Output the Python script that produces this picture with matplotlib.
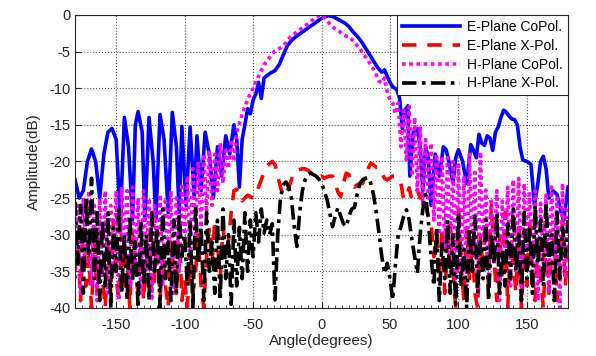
import matplotlib.pyplot as plt
import numpy as np
from matplotlib.ticker import MultipleLocator

plt.rcParams['font.family'] = ['Liberation Sans', 'DejaVu Sans']
plt.rcParams['axes.unicode_minus'] = False

# E-Plane co-pol (own angle sampling, finer near the main beam)
e_co_ang = [-180, -177, -174, -171, -168, -165, -162, -159, -156, -153, -150, -147,
            -144, -141, -138, -136, -134, -131, -129, -126, -123, -121, -118, -115,
            -112, -109, -106, -104, -102, -99, -96, -93, -91, -88, -85, -82, -79,
            -76, -73, -70, -67, -64, -62, -60, -58, -56, -54, -52, -50, -48, -46,
            -44, -42, -40, -37, -34, -31, -28, -25, -22, -19, -16, -13, -10, -7,
            -4, -1, 2, 5, 8, 11, 14, 17, 20, 23, 26, 29, 32, 35, 38, 41, 44, 46,
            48, 50, 52, 55, 57, 59, 61, 63, 64.5, 67, 70, 72, 74, 76, 78, 80, 83,
            86, 89, 91, 93, 96, 98, 100, 103, 106, 109, 111, 113, 115, 117, 119,
            121, 123, 125, 127, 129, 131, 133, 135, 137, 139, 141, 143, 145, 147,
            150, 153, 155.5, 158, 160, 162, 164, 166, 169, 172, 175, 177, 180]
e_co_val = [-22.5, -25, -24, -20, -18.3, -20, -25, -19, -16, -15.5, -17, -28,
            -14, -18, -28, -15, -13.2, -16, -28, -14, -20, -28, -13.6, -17,
            -27, -13.3, -18, -27, -15.2, -26, -15.3, -25, -16.5, -24, -16, -19, -25,
            -18, -22, -16.5, -19, -15, -17, -23.5, -17, -15, -12.8, -13.5, -11.6, -10.8, -9.2,
            -11.4, -8.6, -8.3, -7.9, -7.6, -6.8, -5.5, -4.2, -3.5, -3.0, -2.6, -2.2, -1.8, -1.4,
            -1.0, -0.6, -0.3, -0.1, -0.2, -0.5, -0.8, -1.1, -1.6, -2.3, -2.9, -3.6, -4.5, -5.4, -6.3, -7.2, -7.8, -7.5,
            -8.4, -9.2, -9.8, -10.2, -11.4, -15.5, -13, -12.4, -22, -16, -15.5, -18, -24, -18, -19.5, -26, -19,
            -22, -18, -18.4, -20, -23, -19.5, -18.4, -20, -23, -17.7, -18.5, -19.5, -16.3, -17.5, -17.8,
            -16.5, -16.8, -18.5, -16, -15.3, -14, -13, -13.3, -13.8, -14.2, -14.3, -15, -18, -19.8,
            -20, -20.4, -26, -23, -20, -19.3, -21, -25, -24, -24.5, -27, -28, -23.5]

# other three series share a 2-degree angle grid
angles = np.arange(-180, 181, 2)

e_x_val = [-35, -30, -39, -29, -37, -33, -40, -31, -38, -29,
           -36, -40, -31, -38, -28, -36, -39, -30, -37, -33,
           -40, -29, -35, -38, -31, -39, -34, -30, -38, -36,
           -29, -39, -33, -37, -40, -31, -35, -38, -29, -39,
           -36, -40, -32, -38, -35, -30, -37, -40, -33, -29,
           -34, -28, -31, -36, -29, -32, -31, -27, -24, -23.8,
           -24.5, -25.4, -25, -24.6, -24.8, -25, -24.6, -23.5, -22.5, -21.5,
           -20.7, -20.3, -20, -20.4, -22, -23.5, -24.8, -24.2, -23.6, -22.5,
           -21.4, -21.2, -21.1, -21, -21, -21.2, -21.5, -21.8, -22, -22.2,
           -22, -22.3, -22.1, -22, -22, -23, -24.2, -24.8, -23, -21.6,
           -21.8, -23.2, -23.5, -23.2, -23, -23, -22, -21, -20.2, -20.5,
           -20.8, -20.8, -21.5, -22.3, -22.5, -22.3, -22, -22, -22.5, -23,
           -25.2, -24.8, -23.6, -25.2, -24.8, -23.9, -25, -24.4, -26, -27.5,
           -28.4, -33, -30, -36, -29, -38, -32, -28.4, -35, -40,
           -25.7, -34, -39, -29, -36, -31, -38, -40, -30, -35,
           -28.4, -37, -26, -33, -39, -30, -36, -27, -40, -31,
           -34, -38, -29, -40, -32, -37, -28, -35, -39, -30,
           -36, -40, -31, -38, -33, -30, -39, -35, -28, -37,
           -32]

h_co_val = [-36, -26, -38, -25, -34, -24, -37, -26, -39, -25,
            -36, -24, -38, -26, -35, -24, -39, -23.5, -33, -24,
            -37, -23.5, -34, -25, -38, -24, -35, -25, -39, -26,
            -34, -24.5, -37, -25, -33, -24, -38, -25, -35, -23,
            -31, -22, -33, -21, -30, -20, -29, -19, -27, -18.5,
            -26, -19, -24, -17.5, -23, -18.5, -21, -17, -20, -16,
            -14.8, -13.6, -12.5, -11.6, -10.7, -10, -9.2, -8.4, -7.6, -6.8,
            -6.3, -5.8, -5.3, -4.9, -4.7, -4.5, -4.2, -3.8, -3.3, -2.8,
            -2.6, -2.3, -2.0, -1.8, -1.5, -1.2, -0.9, -0.6, -0.3, -0.1,
            0, -0.4, -0.8, -1.2, -1.6, -1.9, -2.1, -2.4, -2.7, -2.9,
            -3.0, -3.3, -3.7, -4.2, -4.6, -5.2, -5.7, -6.2, -6.8, -7.4,
            -8.2, -9.0, -9.3, -8.6, -10.5, -11.6, -12.0, -13.5, -12.0, -18,
            -13, -20, -12.5, -22, -14, -24, -15.2, -26, -17, -25,
            -17.5, -28, -19, -30, -19.3, -32, -19.5, -34, -20, -36,
            -20.5, -35, -22, -37, -19, -33, -21.5, -38, -18.7, -32,
            -23.9, -36, -25, -34, -24, -39, -25.4, -33, -23.5, -37,
            -22.5, -35, -22.3, -38, -23, -32, -24.4, -36, -24, -39,
            -25.7, -34, -24.6, -38, -23.5, -33, -25, -40, -23, -36,
            -26]

h_x_val = [-25.5, -34, -26, -38, -25, -33, -22.3, -36, -27, -39,
           -28, -37, -27, -40, -29, -35, -26, -38, -30, -39,
           -27.5, -36, -31, -40, -28, -37, -30, -39, -27, -35,
           -29, -40, -26.5, -36, -31, -39, -28, -38, -27, -33,
           -30, -37, -28, -40, -26, -34, -29, -39, -27, -35,
           -31, -38, -28, -39, -26.5, -36, -30, -39.5, -28, -37,
           -29, -36, -27, -35, -28, -33, -27, -31, -26.5, -29.8,
           -28, -30, -28.5, -38.9, -30, -25, -23.2, -22.8, -23.5, -25,
           -28.9, -31.6, -27, -24, -22.5, -21.8, -21.6, -21.8, -22, -22.4,
           -23, -24, -25.2, -27, -28.9, -27.5, -26.3, -27.5, -28.5, -28.9,
           -27.5, -26.5, -26.3, -24.5, -23, -22.5, -22.3, -22.2, -23, -24.6,
           -27, -29.8, -33, -35.3, -33.9, -36, -38.9, -34, -30, -28.9,
           -27.5, -26.6, -28, -30.7, -33, -35.3, -30, -26.5, -24.5, -28,
           -33, -37, -29, -39, -31, -36, -28, -38, -30, -39.5,
           -27, -37, -32, -40, -29, -35, -27.5, -38, -31, -36,
           -28, -39, -30, -34, -27, -38, -32, -37, -28.5, -36,
           -26.5, -35, -30, -39, -27, -36, -29, -38, -26, -34,
           -28, -37, -25.5, -34, -30, -39, -27, -36, -29, -33,
           -28]

labels = ['E-Plane CoPol.', 'E-Plane X-Pol.', 'H-Plane CoPol.', 'H-Plane X-Pol.']

fig = plt.figure(figsize=(5.96, 3.56), dpi=100)
ax = fig.add_axes([0.126, 0.135, 0.827, 0.823])

ax.plot(e_co_ang, e_co_val, color='#0000ff', lw=2.6, ls='-', label=labels[0])
ax.plot(angles, e_x_val, color='#ff0000', lw=2.6, ls=(0, (4, 3)), label=labels[1])
ax.plot(angles, h_co_val, color='#ff00ff', lw=2.6, ls=(0, (1, 1)), label=labels[2])
ax.plot(angles, h_x_val, color='black', lw=2.6, ls=(0, (4, 1.5, 1, 1.5)), label=labels[3])

ax.set_xlim(-180, 180)
ax.set_ylim(-40, 0)
ax.set_xticks([-150, -100, -50, 0, 50, 100, 150])
ax.set_yticks(np.arange(-40, 1, 5))
ax.xaxis.set_minor_locator(MultipleLocator(5))
ax.tick_params(which='both', direction='in', colors='#262626', labelsize=10.5)
ax.tick_params(which='major', length=4)
ax.tick_params(which='minor', length=2)
ax.tick_params(axis='x', pad=7)
ax.grid(True, ls=':', color='#555555', lw=0.8)
for s in ax.spines.values():
    s.set_color('#262626')
    s.set_linewidth(0.8)

ax.set_xlabel('Angle(degrees)', fontsize=11, color='#262626', labelpad=2)
ax.set_ylabel('Amplitude(dB)', fontsize=11, color='#262626', labelpad=6)

leg = ax.legend(loc='upper right', borderaxespad=0, fontsize=10, handlelength=4.2,
                handletextpad=0.5, fancybox=False, framealpha=1,
                edgecolor='#262626', borderpad=0.35, labelspacing=0.35)
leg.get_frame().set_linewidth(0.8)

fig.savefig('out.png', dpi=100)
